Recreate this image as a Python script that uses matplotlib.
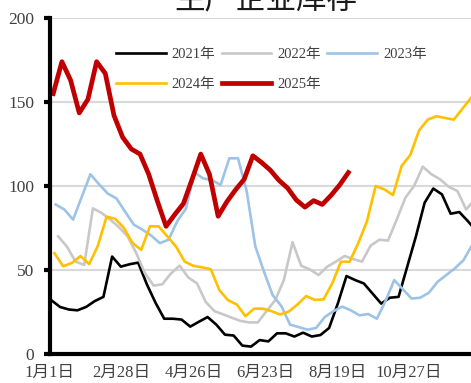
import matplotlib.pyplot as plt
from matplotlib.font_manager import FontProperties

# weekly stock readings; each year's first reading falls a few days after 1月1日
start_2021, start_2022, start_2023, start_2024, start_2025 = 1.5, 7, 5, 4, 3

y2021 = [32, 28, 26.5, 26, 28, 31.5, 34, 58, 52, 53.4, 54.4, 41.5, 30.5, 21, 21,
         20.5, 16.3, 19.2, 22, 17.5, 11.5, 11, 5, 4.4, 8.3, 7.5, 12.3, 12.3, 10.4,
         12.7, 10.4, 11.3, 15.5, 30, 46.4, 44, 42, 36, 30, 33.5, 34, 52, 70, 90,
         98.5, 95, 83.5, 84.5, 79, 73]
y2022 = [70, 64, 55, 53, 86.7, 84, 80, 75.5, 70, 60, 48, 40.7, 41.5, 48, 52.6,
         45.5, 42, 31, 25.5, 23.6, 21.6, 19.7, 18.8, 18.8, 25.5, 32, 44, 66.5, 52.5,
         50.3, 47, 52, 55, 58.3, 56.5, 55, 64.5, 68, 67.5, 80, 93, 100, 111.5, 107,
         104, 99.5, 97, 86, 92]
y2023 = [89, 86, 80, 93.5, 107, 101, 95.5, 92.6, 84.7, 77, 74, 70.5, 66, 68, 79,
         86.5, 108, 104.5, 103.5, 100.6, 116.5, 116.5, 97, 64, 49, 35, 28.5, 17.5,
         16, 14.5, 15.5, 22, 25.5, 28.2, 26, 23, 23.8, 21, 31.5, 44, 38.5, 33, 33.5,
         36.5, 43, 47, 51, 56, 65]
y2024 = [60, 52.2, 54.2, 58.3, 53.5, 64.4, 81.7, 80.5, 75, 66, 62, 76, 76, 70, 64,
         55, 52.5, 51.6, 50.5, 38, 32, 29.5, 22.5, 27, 27, 25.5, 23.5, 25.3, 29.5,
         34.5, 32.2, 32.5, 42, 54.9, 54.9, 66, 79, 100, 98, 94.6, 112, 118.5, 133,
         139.5, 141.5, 140.5, 139.5, 146, 152.5]
y2025 = [155, 174, 163, 143.5, 151.6, 174, 167, 142, 129, 122, 119, 107, 91, 76,
         83, 89.5, 104, 119, 107, 82, 90.6, 97.7, 104, 118, 114, 109.5, 103.4, 98.8,
         91.7, 87.4, 91.3, 89, 94.4, 100.6, 108]

tick_days = [0, 58, 116, 174, 232, 290]
tick_labels = ['1月1日', '2月28日', '4月26日', '6月23日', '8月19日', '10月27日']
series_names = ['2021年', '2022年', '2023年', '2024年', '2025年']


def days(start, vals):
    return [start + 7 * i for i in range(len(vals))]


serif_cjk = ['Liberation Serif', 'Noto Sans CJK SC']
txt_color = '#404040'

W, H = 471, 383
fig = plt.figure(figsize=(W / 100, H / 100), dpi=100)
# 1.24 px per day; the plot runs past the right edge of the figure
ax = fig.add_axes([49.5 / W, 29 / H, 364 * 1.24 / W, 336 / H])

l21, = ax.plot(days(start_2021, y2021), y2021, color='black', lw=1.9)
l22, = ax.plot(days(start_2022, y2022), y2022, color='#C8C8C8', lw=1.9)
l23, = ax.plot(days(start_2023, y2023), y2023, color='#9DC3E6', lw=1.9)
l24, = ax.plot(days(start_2024, y2024), y2024, color='#FFC000', lw=1.9)
l25, = ax.plot(days(start_2025, y2025), y2025, color='#C00000', lw=3.4)

ax.set_xlim(0, 364)
ax.set_ylim(0, 200)
ax.set_yticks([0, 50, 100, 150, 200])
ax.set_xticks(tick_days)
ax.set_xticklabels(tick_labels, family=serif_cjk, fontsize=12, color=txt_color)
for lab in ax.get_yticklabels():
    lab.set_family(serif_cjk)
    lab.set_fontsize(12.5)
    lab.set_color(txt_color)

ax.yaxis.grid(True, color='#D9D9D9', lw=1.5)
ax.set_axisbelow(True)
for side in ['top', 'right']:
    ax.spines[side].set_visible(False)
for side in ['left', 'bottom']:
    ax.spines[side].set_linewidth(3)
ax.tick_params(axis='y', length=4, width=3, pad=7)
ax.tick_params(axis='x', length=0, pad=8)

# row-major order for a 3-column legend
hs = [l21, l24, l22, l25, l23]
ls = [series_names[0], series_names[3], series_names[1], series_names[4], series_names[2]]
leg = ax.legend(hs, ls, ncol=3, loc='upper left', bbox_to_anchor=(116 / W, 1 - 48 / H),
                bbox_transform=fig.transFigure, frameon=False, handlelength=3.4,
                handletextpad=0.4, columnspacing=0.45, labelspacing=1.15,
                borderpad=0, borderaxespad=0,
                prop=FontProperties(family=serif_cjk, size=10.5))
for t in leg.get_texts():
    t.set_color(txt_color)

fig.text(266 / W, 1 - 9 / H, '生产企业库存', ha='center', va='baseline',
         fontsize=22, family='Noto Sans CJK SC', color='#1a1a1a')

fig.savefig('out.png', dpi=100)
